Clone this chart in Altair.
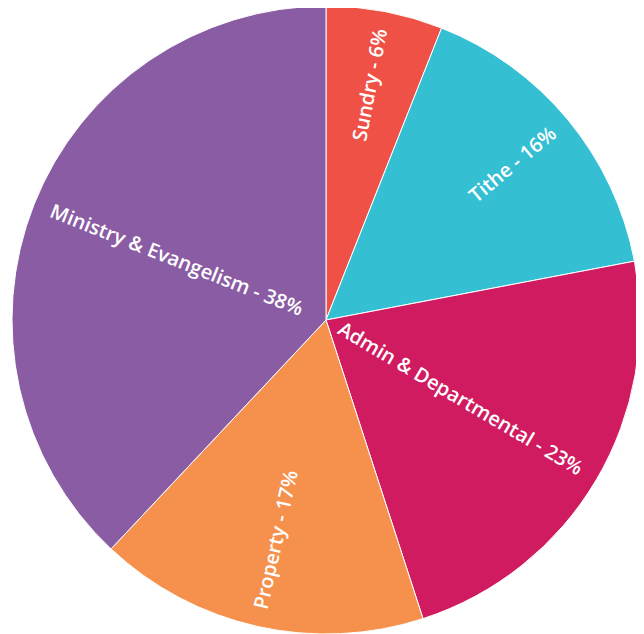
import altair as alt
import pandas as pd

categories = ["Sundry", "Tithe", "Admin & Departmental", "Property", "Ministry & Evangelism"]
values = [6, 16, 23, 17, 38]
colors = ["#F05146", "#34BFD3", "#D01B60", "#F6914D", "#8A5CA4"]

df = pd.DataFrame({"category": categories, "value": values, "idx": list(range(len(categories)))})

CX, CY = 318, 312

base = (
    alt.Chart(df)
    .transform_window(cum="sum(value)", frame=[None, 0], sort=[alt.SortField("idx")])
    .transform_joinaggregate(total="sum(value)")
    .transform_calculate(mid="(datum.cum - datum.value / 2) / datum.total * 360")
    .transform_calculate(
        midrad="datum.mid * PI / 180",
        ang="datum.mid < 180 ? (datum.mid + 270) % 360 : (datum.mid + 90) % 360",
        label="datum.category + ' - ' + datum.value + '%'",
    )
)

pie = base.mark_arc(radius=314, stroke="white", strokeWidth=1).encode(
    theta=alt.Theta("value:Q", stack=True),
    order=alt.Order("idx:Q"),
    color=alt.Color("category:N", scale=alt.Scale(domain=categories, range=colors), legend=None),
    x=alt.value(CX),
    y=alt.value(CY),
)

text_style = dict(radius=296, baseline="middle", font="Open Sans", fontSize=20,
                  fontWeight=600, color="white")

right_labels = base.transform_filter("datum.mid < 180").mark_text(align="right", **text_style).encode(
    theta=alt.Theta("midrad:Q", scale=None, stack=False),
    angle=alt.Angle("ang:Q", scale=None),
    text="label:N",
    x=alt.value(CX),
    y=alt.value(CY),
)

left_labels = base.transform_filter("datum.mid >= 180").mark_text(align="left", **text_style).encode(
    theta=alt.Theta("midrad:Q", scale=None, stack=False),
    angle=alt.Angle("ang:Q", scale=None),
    text="label:N",
    x=alt.value(CX),
    y=alt.value(CY),
)

chart = (
    alt.layer(pie, right_labels, left_labels)
    .properties(width=628, height=626, padding=0, autosize=alt.AutoSizeParams(type="none"))
    .configure_view(strokeWidth=0)
)

chart.save("out.html", embed_options={"renderer": "svg", "actions": False})
